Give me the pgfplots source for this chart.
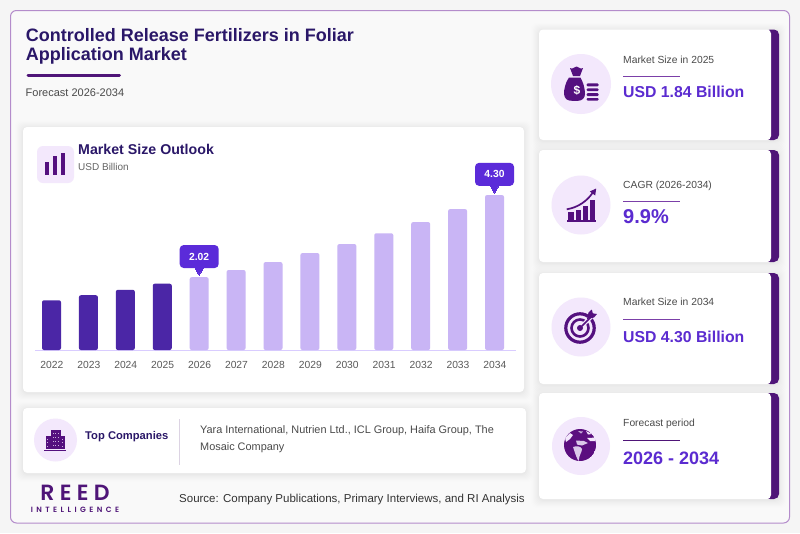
\documentclass[border=0pt]{standalone}
\usepackage{fontspec}
\usepackage{pgfplots}
\pgfplotsset{compat=1.18}
\setmainfont{Liberation Sans}
\newfontfamily\logoA[LetterSpace=24]{Poppins SemiBold}
\newfontfamily\logoB[LetterSpace=45]{Poppins SemiBold}
\definecolor{pagebg}{HTML}{F5F5F5}
\definecolor{innerbg}{HTML}{F9F9F9}
\definecolor{borderc}{HTML}{B48CCB}
\definecolor{titlec}{HTML}{2A1768}
\definecolor{strip}{HTML}{4F1578}
\definecolor{iconp}{HTML}{54107F}
\definecolor{pale}{HTML}{F3E8FC}
\definecolor{barD}{HTML}{4B26A6}
\definecolor{barL}{HTML}{C9B5F5}
\definecolor{axisl}{HTML}{D9CCFF}
\definecolor{callout}{HTML}{5B2BD9}
\definecolor{valc}{HTML}{5B2BD0}
\definecolor{greyt}{HTML}{4A4A4A}
\definecolor{rulec}{HTML}{7B3FA8}
\newcommand{\fs}[1]{\fontsize{#1}{#1}\selectfont}
\newcommand{\shadow}[4]{%
  \foreach \d/\o in {8/0.004,7/0.005,6/0.006,5/0.007,4/0.008,3/0.009,2/0.010,1/0.010}{%
    \fill[black,opacity=\o,rounded corners=6pt] (#1-\d,#2-\d+1) rectangle (#3+\d,#4+\d+1);}}
\newcommand{\card}[4]{\shadow{#1}{#2}{#3}{#4}%
  \fill[white,rounded corners=4pt] (#1,#2) rectangle (#3,#4);}
\newcommand{\txt}[4]{\node[anchor=base west,inner sep=0pt,text=#3] at (#1,#2) {#4};}
\newcommand{\rcard}[4]{\shadow{#1}{#2}{#3}{#4}%
  \fill[strip,rounded corners=5pt] (#3-14,#2) rectangle (#3,#4);
  \fill[white,rounded corners=4pt] (#1,#2) rectangle (#3-8,#4);}
\begin{document}
\begin{tikzpicture}
\begin{scope}[x=1pt,y=-1pt]
\path[use as bounding box] (0,0) rectangle (800,533);
\fill[pagebg] (0,0) rectangle (800,533);
\filldraw[fill=innerbg,draw=borderc,line width=1pt,rounded corners=6pt] (10.5,10.5) rectangle (789.5,523);
% title
\txt{25.7}{41.5}{titlec}{\fs{18}\bfseries Controlled Release Fertilizers in Foliar}
\txt{25.7}{60}{titlec}{\fs{18}\bfseries Application Market}
\draw[strip,line width=3pt,line cap=round] (28,75.5) -- (119.5,75.5);
\txt{25.5}{96}{greyt}{\fs{11}Forecast 2026-2034}
% chart card
\card{23}{127}{524}{392}
\fill[pale,rounded corners=6pt] (37,146) rectangle (74,183);
\fill[iconp] (44.7,161.7) rectangle (49,174.5);
\fill[iconp] (52.7,156) rectangle (57,174.5);
\fill[iconp] (61,153.3) rectangle (65.3,174.5);
\txt{78}{154}{titlec}{\fs{14.2}\bfseries Market Size Outlook}
\txt{78}{170.7}{greyt!85}{\fs{10}USD Billion}
% companies card
\card{23}{408}{526}{473}
\fill[pale] (55.5,440) circle (21.5);
\fill[iconp] (50.7,430) rectangle (60.7,448.5);
\fill[iconp] (45.7,435.7) rectangle (50.7,448.5);
\fill[iconp] (60.7,435.7) rectangle (65,448.5);
\fill[iconp] (44.3,449.5) rectangle (66,450.6);
\foreach \yy in {433,437,441,445}{\foreach \xx in {52.7,55.2,57.7}{\fill[pale!75!iconp] (\xx,\yy) rectangle +(1.1,1.3);}}
\foreach \yy in {438.5,442,445.5}{\foreach \xx in {47.4,62.2}{\fill[pale!75!iconp] (\xx,\yy) rectangle +(1,1.2);}}
\txt{85}{439}{titlec}{\fs{11.2}\bfseries Top Companies}
\draw[pale!80!gray,line width=0.9pt] (179,419) -- (179,465);
\txt{200}{433}{greyt}{\fs{10.9}Yara International, Nutrien Ltd., ICL Group, Haifa Group, The}
\txt{200}{450}{greyt}{\fs{10.9}Mosaic Company}
% footer
\txt{40.2}{500.5}{strip}{\fs{22}\logoA REED}
\txt{30.7}{512.3}{strip}{\fs{7.6}\logoB INTELLIGENCE}
\txt{179}{502}{black!80}{\fs{11.5}Source: Company Publications, Primary Interviews, and RI Analysis}
% right cards
\rcard{539}{29.5}{779}{140}
\rcard{539}{150}{779}{262}
\rcard{539}{273}{779}{384}
\rcard{539}{393}{779}{499}
\fill[pale] (581,84) circle (30);
\fill[pale] (581,205) circle (29.5);
\fill[pale] (581,327) circle (29.5);
\fill[pale] (581,446) circle (29);
\txt{623}{63.3}{greyt}{\fs{10.3}Market Size in 2025}
\draw[rulec,line width=0.8pt] (623,76) -- (680,76);
\txt{623}{97.3}{valc}{\fs{15.8}\bfseries USD 1.84 Billion}
\txt{623}{188.3}{greyt}{\fs{10.3}CAGR (2026-2034)}
\draw[rulec,line width=0.8pt] (623,201.7) -- (680,201.7);
\txt{623}{223.3}{valc}{\fs{20}\bfseries 9.9\%}
\txt{623}{305}{greyt}{\fs{10.3}Market Size in 2034}
\draw[rulec,line width=0.8pt] (623,319) -- (680,319);
\txt{623}{342.3}{valc}{\fs{15.8}\bfseries USD 4.30 Billion}
\txt{623}{426}{greyt}{\fs{10.3}Forecast period}
\draw[strip,line width=0.8pt] (623,440) -- (680,440);
\txt{623}{464}{valc}{\fs{18}\bfseries 2026 - 2034}
% money bag icon
\fill[iconp] (569,77.5) .. controls (565.5,82) and (563.8,90) .. (564,94) .. controls (564.5,99) and (567.5,100.8) .. (572,100.8) -- (578,100.8) .. controls (582,100.8) and (585,98) .. (585,94) .. controls (585,88) and (583,82) .. (580.5,77.5) -- cycle;
\fill[iconp] (570,68) .. controls (573,70) and (574,66.5) .. (576.5,66.5) .. controls (579,66.5) and (580,70) .. (583,68) -- (580,76) -- (573,76) -- cycle;
\fill[iconp,rounded corners=1pt] (586.7,83.3) rectangle (598.5,86.4);
\fill[iconp,rounded corners=1pt] (586.7,88.3) rectangle (598.5,91.2);
\fill[iconp,rounded corners=1pt] (586.7,93.2) rectangle (598.5,96);
\fill[iconp,rounded corners=1pt] (586.7,98) rectangle (598.5,100.7);
\node[text=white,inner sep=0pt] at (577,90.5) {\fs{12}\bfseries\$};
% growth icon
\fill[iconp] (566.7,220) rectangle (595.8,222);
\fill[iconp] (568,212.3) rectangle (573.8,220);
\fill[iconp] (575.5,210) rectangle (581.3,220);
\fill[iconp] (583,206) rectangle (588.4,220);
\fill[iconp] (590,200) rectangle (595.3,220);
\draw[iconp,line width=1.7pt] (566.7,209.3) .. controls (578,207.5) and (587,201) .. (592.5,193);
\fill[iconp] (596.2,188.5) -- (595.2,195.5) -- (589.8,191.5) -- cycle;
% target icon
\draw[iconp,line width=3.2pt] (580,328) circle (14.2);
\draw[iconp,line width=2.6pt] (580,328) circle (8.5);
\fill[iconp] (580,328) circle (3);
\draw[pale,line width=4.2pt] (582,326) -- (593,315);
\draw[iconp,line width=1.7pt] (580,328) -- (592,316);
\fill[iconp] (587,319) -- (588.5,312.5) -- (591.8,309.5) -- (592.8,313.3) -- (597,314) -- (594,317.5) -- cycle;
% globe icon
\begin{scope}
\clip (580,445) circle (16);
\fill[iconp!85!violet] (580,445) circle (16);
\fill[pale] (565,438) -- (570,433) -- (573,435) -- (570,439) -- (566,442) -- cycle;
\fill[pale!70!iconp] (578,431) -- (583,431.5) -- (581,433.5) -- cycle;
\fill[pale] (586,431) -- (592,434) -- (588,434.5) -- cycle;
\fill[pale] (587,438) -- (597,437.5) -- (597,441) -- (590,441) -- cycle;
\fill[pale!85!iconp] (576,440.5) -- (584,441) -- (588,443) -- (582,445.5) -- (577,444.5) -- cycle;
\fill[pale!85!iconp] (573,447) .. controls (577,445.5) and (581,446.5) .. (582,449) .. controls (582,452) and (579.5,454) .. (578.5,461) .. controls (577,459) and (575,453) .. (573,447);
\end{scope}
\end{scope}
% the chart
\begin{axis}[
  at={(35pt,-350pt)},anchor=south west,
  scale only axis,width=481pt,height=165.76pt,
  xmin=-0.447,xmax=12.582,ymin=0,ymax=4.6,
  clip=false,
  axis y line=none,
  axis x line=bottom,
  x axis line style={-,draw=axisl,line width=1pt},
  xtick={0,...,12},
  xticklabels={2022,2023,2024,2025,2026,2027,2028,2029,2030,2031,2032,2033,2034},
  xtick style={draw=none},
  xticklabel style={anchor=base,yshift=-16pt,xshift=0.4pt,font=\fs{10.3},text=black!65},
]
\addplot[ybar,bar width=19pt,bar shift=0pt,draw=none,fill=barD,rounded corners=2pt]
  coordinates {(0,1.38)(1,1.52)(2,1.67)(3,1.84)};
\addplot[ybar,bar width=19pt,bar shift=0pt,draw=none,fill=barL,rounded corners=2pt]
  coordinates {(4,2.02)(5,2.22)(6,2.44)(7,2.69)(8,2.94)(9,3.24)(10,3.55)(11,3.91)(12,4.30)};
\addplot[only marks,color=callout,mark=triangle*,mark size=4.7pt,
  mark options={yshift=6.7pt,rotate=180,fill=callout,draw=callout,line width=0pt},
  nodes near coords={\pgfmathprintnumber[fixed,fixed zerofill,precision=2,assume math mode=true]{\pgfplotspointmeta}},
  every node near coord/.append style={anchor=south,yshift=2.5pt,inner sep=0pt,
    minimum width=39pt,minimum height=23pt,fill=callout,rounded corners=4pt,
    text=white,font=\fs{10.3}\bfseries},
  ] coordinates {(4,2.02)(12,4.30)};
\end{axis}
\end{tikzpicture}
\end{document}
